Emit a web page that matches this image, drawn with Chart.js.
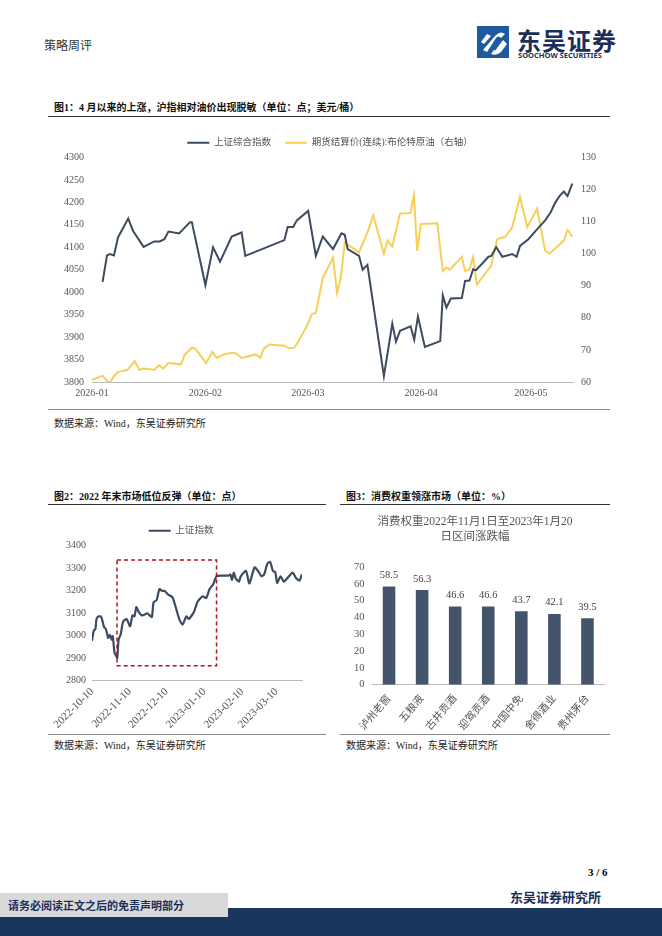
<!DOCTYPE html>
<html>
<head>
<meta charset="utf-8">
<script src="https://cdn.jsdelivr.net/npm/chart.js@4.4.1/dist/chart.umd.min.js"></script>
<style>
  body { margin:0; width:662px; height:936px; position:relative; background:#fff;
         font-family:"Liberation Serif","Noto Sans CJK SC",serif; overflow:hidden; }
  .abs { position:absolute; }
  .title { font-size:10px; font-weight:bold; color:#111; }
  .rule { position:absolute; height:1px; background:#333; }
  .thin { position:absolute; height:1px; background:#888; }
  .src { font-size:10px; color:#222; }
</style>
</head>
<body>
<div class="abs" style="left:44px;top:36px;font-size:12px;color:#333;">策略周评</div>
<!-- logo -->
<svg class="abs" style="left:475px;top:24px" width="142" height="36">
  <rect x="2" y="2" width="32" height="32" fill="#1e5aa0"/>
  <path d="M8 26 L20 12 Q25 6 30 10 L26 14 Q23 11 21 14 L12 28 Z" fill="#fff"/>
  <path d="M6 18 L12 10 L16 12 L9 20 Z" fill="#fff"/>
  <path d="M22 24 L28 16 L32 20 L26 28 Q22 32 16 30 L19 26 Q21 27 22 24 Z" fill="#fff"/>
</svg>
<div class="abs" style="left:517px;top:22px;font-size:24px;font-weight:bold;color:#1b2f5a;font-family:'Noto Sans CJK SC';letter-spacing:1px;">东吴证券</div>
<div class="abs" style="left:518px;top:50px;font-size:7.5px;font-weight:bold;color:#1b2f5a;font-family:'Noto Sans';">SOOCHOW SECURITIES</div>

<div class="abs title" style="left:54px;top:99px;">图1：4 月以来的上涨，沪指相对油价出现脱敏（单位：点；美元/桶）</div>
<div class="rule" style="left:48px;top:116px;width:562px;"></div>
<div class="abs" style="left:48px;top:124px;width:562px;height:282px;"><canvas id="c1"></canvas></div>
<div class="thin" style="left:48px;top:409px;width:562px;"></div>
<div class="abs src" style="left:54px;top:415px;">数据来源：Wind，东吴证券研究所</div>

<div class="abs title" style="left:54px;top:488px;">图2：2022 年末市场低位反弹（单位：点）</div>
<div class="rule" style="left:48px;top:504px;width:278px;"></div>
<div class="abs" style="left:48px;top:510px;width:278px;height:223px;"><canvas id="c2"></canvas></div>
<div class="thin" style="left:48px;top:734px;width:278px;"></div>
<div class="abs src" style="left:54px;top:737px;">数据来源：Wind，东吴证券研究所</div>

<div class="abs title" style="left:346px;top:488px;">图3：消费权重领涨市场（单位：%）</div>
<div class="rule" style="left:340px;top:504px;width:270px;"></div>
<div class="abs" style="left:340px;top:510px;width:270px;height:223px;"><canvas id="c3"></canvas></div>
<div class="thin" style="left:340px;top:734px;width:270px;"></div>
<div class="abs src" style="left:346px;top:737px;">数据来源：Wind，东吴证券研究所</div>

<div class="abs" style="left:588px;top:866px;font-size:11px;font-weight:bold;">3 / 6</div>
<div class="abs" style="left:510px;top:887px;font-size:13px;font-weight:bold;color:#1b2f5a;">东吴证券研究所</div>
<div class="abs" style="left:0;top:908px;width:662px;height:28px;background:#1b365d;"></div>
<div class="abs" style="left:0;top:893px;width:228px;height:24px;background:#d9d9d9;"></div>
<div class="abs" style="left:8px;top:897px;font-size:11px;font-weight:bold;color:#1b2f5a;">请务必阅读正文之后的免责声明部分</div>

<script>
// 图1 数据（x 为 2026-01-01 起的天数）
const shDays = [2.9,4.1,4.9,6,7.1,9.9,11.2,14.1,17,18.5,19.8,20.9,23.8,26.8,27.3,31,33.1,35,38.2,40.9,41.9,52.6,53.5,55,56,59.1,61.2,63.1,65.9,68.2,69.1,69.9,73,74,75.3,79.8,82.1,83.1,84.2,87.1,88.1,89.1,91,95.2,95.9,96.9,98.1,101.1,102,103.2,104.2,105,108.4,109.2,110.5,112.2,114.9,116.1,117,119.3,122.2,123.9,125.4,126.6,127.8,129,130,131.3];
const shVals = [4023,4082,4085,4082,4122,4164,4137,4101,4113,4113,4118,4135,4131,4156,4156,4016,4100,4068,4124,4133,4081,4116,4145,4145,4160,4181,4081,4124,4096,4131,4128,4096,4081,4050,4061,3813,3930,3890,3914,3924,3894,3946,3878,3891,3993,3966,3986,3987,4025,4026,4051,4049,4079,4081,4100,4079,4085,4079,4103,4118,4145,4160,4178,4199,4214,4224,4214,4242];
const brDays = [0,2.9,4.4,5,5.8,7,9.7,11.7,12.9,14.1,17,18.3,19.5,20.8,24.3,25.3,27.3,28.2,31.2,32.9,34.1,36,38.2,39.4,40.9,44.8,46,47,48.5,52.6,53.8,55.3,56.5,58.9,60.1,61.2,63.1,65.9,67,68,69.1,73,75.5,76.9,79.8,80.8,82.1,84.2,87,88,88.9,89.9,94.4,95.9,96.9,97.9,101.1,102,103.2,104.2,105.2,109.1,110.8,113,114.9,117,119,121.7,123.9,125.1,129,130,131.3];
const brVals = [60.7,61.9,60,60,61.5,63.1,63.8,66.5,63.8,64.2,63.8,65.2,64.2,65.9,65.5,68.4,70.7,70.5,65.9,69.4,67.5,68.6,69.1,68.9,67.5,68.6,67.5,70.5,71.7,71.3,70.5,70.7,72.8,77.8,81.2,81.5,92.5,98.8,87.8,92.5,103.5,100.4,107.2,112,99.9,104.1,102.2,112.5,112.7,118.2,100.9,109.3,109.5,94.6,95.7,95.1,99,94.6,95.1,99,90.4,96.2,104.6,105.3,108.3,117.7,108.3,114,100.9,100.1,104.1,107.4,105.3];
const c1TickDays = [0,31,59,90,120];
const c1TickLabels = ["2026-01","2026-02","2026-03","2026-04","2026-05"];

// 图2 数据（x 为 2022-10-10 起的天数）
const szDays = [0,1.4,2.8,3.7,5.7,7.6,9.9,11.3,13.3,14.7,16.1,17,18.4,19.8,20.7,21.8,23.5,25.5,28.3,31.2,33.1,34.8,36.3,38.2,41.1,45.3,49,50.4,53,55.2,57.5,59.5,62.3,66,69.4,71.7,74.2,77.3,79.3,83.6,86.4,90.7,93.5,96.3,99.2,102,106.2,111.9,113.3,114.7,116.1,117.6,120.4,121.8,126.1,128.9,133.1,136,138.8,141,143.6,145.9,148.2,150.1,151.6,154.4,157.2,160.1,164.3,167.1,170,171.9];
const szVals = [2976,3021,3029,3073,3085,3082,3037,3029,2989,3002,2981,2997,2924,2908,2900,2981,3005,3061,3073,3040,3089,3085,3126,3105,3089,3098,3082,3147,3158,3206,3198,3198,3182,3169,3110,3069,3048,3085,3073,3105,3150,3174,3166,3206,3227,3263,3266,3266,3271,3247,3279,3255,3239,3263,3287,3231,3303,3287,3263,3271,3319,3327,3287,3282,3234,3263,3239,3255,3279,3255,3244,3271];
const c2TickDays = [0,31,61,92,123,151];
const c2TickLabels = ["2022-10-10","2022-11-10","2022-12-10","2023-01-10","2023-02-10","2023-03-10"];
const boxDays = [20.5,102];
const boxVals = [2865,3335];

// 图3 数据
const stocks = ["泸州老窖","五粮液","古井贡酒","迎驾贡酒","中国中免","舍得酒业","贵州茅台"];
const gains = [58.5,56.3,46.6,46.6,43.7,42.1,39.5];

const FONT = "'Liberation Serif','Noto Sans CJK SC',serif";
Chart.defaults.font.family = FONT;
Chart.defaults.color = "#555";
Chart.defaults.animation = false;
const DARK = "#3d4b60", YEL = "#f6cf5b";
const plain = v => String(v);

function fixedTicks(days, labels) {
  return axis => { axis.ticks = days.map(v => ({ value: v })); };
}

new Chart(document.getElementById("c1"), {
  type: "line",
  data: {
    datasets: [
      { label: "上证综合指数", data: shDays.map((d, i) => ({ x: d, y: shVals[i] })), borderColor: DARK, backgroundColor: DARK, borderWidth: 2, pointRadius: 0, tension: 0, yAxisID: "y" },
      { label: "期货结算价(连续):布伦特原油（右轴）", data: brDays.map((d, i) => ({ x: d, y: brVals[i] })), borderColor: YEL, backgroundColor: YEL, borderWidth: 2, pointRadius: 0, tension: 0, yAxisID: "y1" }
    ]
  },
  options: {
    responsive: true, maintainAspectRatio: false,
    layout: { padding: { left: 8, right: 6, top: 0, bottom: 2 } },
    plugins: {
      legend: { labels: { boxWidth: 22, boxHeight: 0, font: { size: 9.5 }, color: "#555", padding: 14 } },
      tooltip: { enabled: false }
    },
    scales: {
      x: { type: "linear", min: 0, max: 131.5, grid: { display: false, drawTicks: false }, border: { color: "#bbb" },
           afterBuildTicks: fixedTicks(c1TickDays),
           ticks: { callback: v => c1TickLabels[c1TickDays.indexOf(v)], font: { size: 10 }, padding: 5, maxRotation: 0 } },
      y: { min: 3800, max: 4300, ticks: { stepSize: 50, callback: plain, font: { size: 10 }, padding: 8 }, grid: { display: false, drawTicks: false }, border: { display: false } },
      y1: { position: "right", min: 60, max: 130, ticks: { stepSize: 10, callback: plain, font: { size: 10 }, padding: 8 }, grid: { display: false, drawTicks: false }, border: { display: false } }
    }
  }
});

const boxPlugin = {
  id: "box",
  afterDatasetsDraw(chart) {
    const { ctx, scales } = chart;
    const x0 = scales.x.getPixelForValue(boxDays[0]), x1 = scales.x.getPixelForValue(boxDays[1]);
    const y0 = scales.y.getPixelForValue(boxVals[1]), y1 = scales.y.getPixelForValue(boxVals[0]);
    ctx.save();
    ctx.strokeStyle = "#b0151b"; ctx.lineWidth = 1.5; ctx.setLineDash([4, 3]);
    ctx.strokeRect(x0, y0, x1 - x0, y1 - y0);
    ctx.restore();
  }
};

new Chart(document.getElementById("c2"), {
  type: "line",
  data: { datasets: [{ label: "上证指数", data: szDays.map((d, i) => ({ x: d, y: szVals[i] })), borderColor: DARK, backgroundColor: DARK, borderWidth: 2.2, pointRadius: 0, tension: 0.2 }] },
  options: {
    responsive: true, maintainAspectRatio: false,
    layout: { padding: { left: 12, right: 24, top: 2, bottom: 0 } },
    plugins: { legend: { labels: { boxWidth: 22, boxHeight: 0, font: { size: 9.5 }, color: "#555", padding: 14 } }, tooltip: { enabled: false } },
    scales: {
      x: { type: "linear", min: 0, max: 172, grid: { display: false, drawTicks: true, tickLength: 3, color: "#bbb" }, border: { color: "#bbb" },
           afterBuildTicks: fixedTicks(c2TickDays),
           ticks: { callback: v => c2TickLabels[c2TickDays.indexOf(v)], font: { size: 11 }, minRotation: 45, maxRotation: 45, padding: 2 } },
      y: { min: 2800, max: 3400, ticks: { stepSize: 100, callback: plain, font: { size: 10 }, padding: 6 }, grid: { display: false, drawTicks: false }, border: { display: false } }
    }
  },
  plugins: [boxPlugin]
});

const valueLabels = {
  id: "vals",
  afterDatasetsDraw(chart) {
    const { ctx } = chart;
    const meta = chart.getDatasetMeta(0);
    ctx.save();
    ctx.font = "10.5px " + FONT; ctx.fillStyle = "#444"; ctx.textAlign = "center"; ctx.textBaseline = "bottom";
    meta.data.forEach((bar, i) => ctx.fillText(gains[i].toFixed(1), bar.x, bar.y - 6));
    ctx.restore();
  }
};

new Chart(document.getElementById("c3"), {
  type: "bar",
  data: { labels: stocks, datasets: [{ data: gains, backgroundColor: "#44546a", barPercentage: 0.38, categoryPercentage: 1 }] },
  options: {
    responsive: true, maintainAspectRatio: false,
    layout: { padding: { left: 6, right: 6, top: 0, bottom: 0 } },
    plugins: {
      legend: { display: false }, tooltip: { enabled: false },
      title: { display: true, text: ["消费权重2022年11月1日至2023年1月20", "日区间涨跌幅"], color: "#555", font: { size: 11.5, weight: "normal", lineHeight: 1.35 }, padding: { top: 4, bottom: 22 } }
    },
    scales: {
      x: { grid: { display: false }, border: { color: "#bbb" }, ticks: { font: { size: 10.5 }, minRotation: 50, maxRotation: 50, padding: 0 } },
      y: { min: 0, max: 70, ticks: { stepSize: 10, callback: plain, font: { size: 10.5 }, padding: 8 }, grid: { display: false, drawTicks: false }, border: { display: false } }
    }
  },
  plugins: [valueLabels]
});
</script>
</body>
</html>
